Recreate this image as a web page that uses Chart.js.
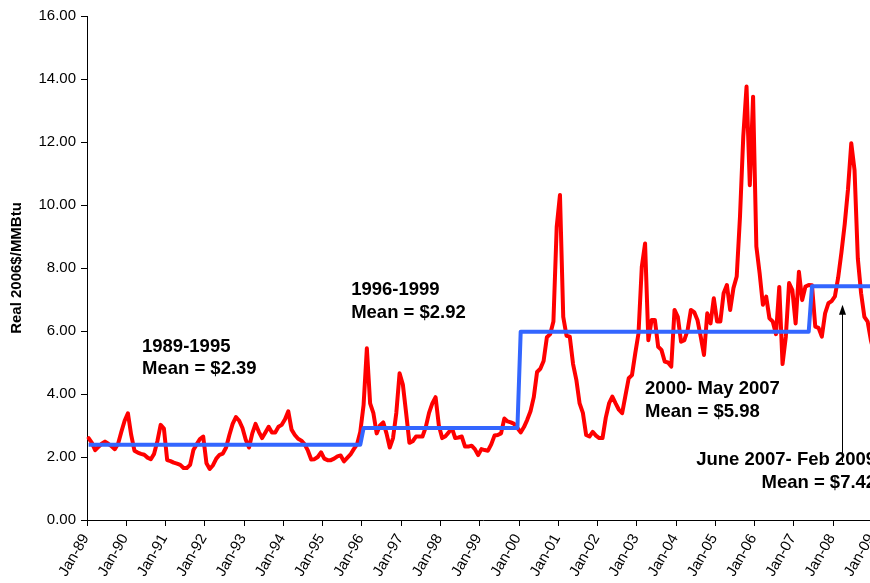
<!DOCTYPE html>
<html>
<head>
<meta charset="utf-8">
<script src="https://cdn.jsdelivr.net/npm/chart.js@4/dist/chart.umd.min.js"></script>
<style>
  html, body { margin: 0; padding: 0; background: #fff; overflow: hidden; width: 870px; height: 583px; }
  #wrap { position: absolute; left: 0; top: 0; width: 900px; height: 583px; }
</style>
</head>
<body>
<div id="wrap"><canvas id="chart"></canvas></div>
<script>
// ---- DATA ----
const years = ['89','90','91','92','93','94','95','96','97','98','99','00','01','02','03','04','05','06','07','08','09'];
const monthNames = ['Jan','Feb','Mar','Apr','May','Jun','Jul','Aug','Sep','Oct','Nov','Dec'];
const monthsInLastYear = 2; // data runs through Feb-09

// Real natural gas price, 2006$/MMBtu, monthly from Jan-89
const realPrice = [
  2.60, 2.45, 2.22, 2.32, 2.42, 2.49, 2.42, 2.34, 2.25, 2.42, 2.80, 3.15,   // 1989
  3.39, 2.70, 2.20, 2.14, 2.10, 2.07, 1.98, 1.93, 2.10, 2.50, 3.02, 2.90,   // 1990
  1.90, 1.87, 1.82, 1.79, 1.75, 1.65, 1.65, 1.75, 2.22, 2.40, 2.57, 2.65,   // 1991
  1.80, 1.62, 1.74, 1.95, 2.07, 2.11, 2.30, 2.70, 3.05, 3.27, 3.15, 2.92,   // 1992
  2.55, 2.30, 2.75, 3.05, 2.80, 2.60, 2.78, 2.96, 2.78, 2.78, 2.96, 3.02,   // 1993
  3.20, 3.45, 2.87, 2.70, 2.58, 2.52, 2.40, 2.20, 1.92, 1.93, 2.00, 2.15,   // 1994
  1.95, 1.90, 1.90, 1.95, 2.02, 2.05, 1.86, 1.97, 2.08, 2.25, 2.40, 2.80,   // 1995
  3.65, 5.45, 3.70, 3.39, 2.75, 3.00, 3.10, 2.75, 2.30, 2.60, 3.40, 4.66,   // 1996
  4.30, 3.40, 2.45, 2.50, 2.65, 2.65, 2.65, 2.95, 3.40, 3.70, 3.90, 3.00,   // 1997
  2.60, 2.66, 2.78, 2.92, 2.60, 2.62, 2.65, 2.33, 2.33, 2.36, 2.25, 2.06,   // 1998
  2.25, 2.22, 2.20, 2.40, 2.68, 2.70, 2.75, 3.22, 3.13, 3.10, 3.05, 2.92,   // 1999
  2.78, 2.95, 3.18, 3.45, 3.90, 4.70, 4.80, 5.05, 5.80, 5.90, 6.30, 9.30,   // 2000
  10.32, 6.45, 5.85, 5.82, 4.95, 4.45, 3.70, 3.40, 2.70, 2.65, 2.80, 2.68,  // 2001
  2.60, 2.60, 3.25, 3.70, 3.92, 3.70, 3.50, 3.39, 3.95, 4.50, 4.60, 5.29,   // 2002
  5.93, 8.04, 8.78, 5.71, 6.35, 6.35, 5.50, 5.40, 5.03, 5.00, 4.87, 6.67,   // 2003
  6.45, 5.66, 5.71, 6.03, 6.67, 6.60, 6.35, 5.82, 5.24, 6.56, 6.24, 7.04,   // 2004
  6.30, 6.30, 7.20, 7.46, 6.67, 7.36, 7.73, 9.63, 12.17, 13.76, 10.63, 13.44, // 2005
  8.68, 7.83, 6.83, 7.09, 6.40, 6.30, 5.90, 7.40, 4.95, 5.82, 7.52, 7.30,   // 2006
  6.24, 7.88, 6.98, 7.41, 7.46, 7.45, 6.14, 6.10, 5.82, 6.56, 6.88, 6.95,   // 2007
  7.10, 7.70, 8.50, 9.40, 10.50, 11.96, 11.10, 8.30, 7.20, 6.45, 6.30, 5.70, // 2008
  5.30, 5.20                                                                // 2009
];

// Period means (step line) and number of months in each period
const periodMeans  = [2.39, 2.92, 5.98, 7.42];
const periodMonths = [84, 48, 89, 21];   // 1989-1995, 1996-1999, Jan 2000-May 2007, Jun 2007-Feb 2009

const yTickLabels = ['0.00','2.00','4.00','6.00','8.00','10.00','12.00','14.00','16.00'];
const xTickLabels = years.map(y => 'Jan-' + y);

const periodLabels = [
  ['1989-1995', 'Mean = $2.39'],
  ['1996-1999', 'Mean = $2.92'],
  ['2000- May 2007', 'Mean = $5.98'],
  ['June 2007- Feb 2009', 'Mean = $7.42']
];

// ---- derived tables ----
const categories = [];
years.forEach((y, yi) => {
  const n = (yi === years.length - 1) ? monthsInLastYear : 12;
  for (let m = 0; m < n; m++) categories.push(monthNames[m] + '-' + y);
});
const meanSeries = [];
periodMeans.forEach((v, i) => { for (let k = 0; k < periodMonths[i]; k++) meanSeries.push(v); });

// ---- annotation placement (in axis units: month index, value) ----
const annotationLayout = [
  { x: 16.3, y1: 5.33, y2: 4.63, align: 'left' },
  { x: 80.2, y1: 7.14, y2: 6.41, align: 'left' },
  { x: 170.0, y1: 4.00, y2: 3.27, align: 'left' },
  { x: 185.6, y1: 1.75, y2: 1.02, align: 'left', x2: 240.6, align2: 'right' }
];
const arrowLayout = { x: 230.2, from: 1.84, to: 6.83 };

const annotationPlugin = {
  id: 'annotations',
  afterDatasetsDraw(chart) {
    const ctx = chart.ctx, xs = chart.scales.x, ys = chart.scales.y;
    ctx.save();
    ctx.fillStyle = '#000';
    ctx.font = 'bold 18.5px "Liberation Sans", Arial, sans-serif';
    ctx.textBaseline = 'alphabetic';
    annotationLayout.forEach((a, i) => {
      ctx.textAlign = a.align;
      ctx.fillText(periodLabels[i][0], xs.getPixelForValue(a.x), ys.getPixelForValue(a.y1));
      ctx.textAlign = a.align2 || a.align;
      ctx.fillText(periodLabels[i][1], xs.getPixelForValue(a.x2 !== undefined ? a.x2 : a.x), ys.getPixelForValue(a.y2));
    });
    // arrow
    const ax = Math.round(xs.getPixelForValue(arrowLayout.x)) + 0.5;
    const yFrom = ys.getPixelForValue(arrowLayout.from);
    const yTo = ys.getPixelForValue(arrowLayout.to);
    ctx.strokeStyle = '#000';
    ctx.lineWidth = 1;
    ctx.beginPath();
    ctx.moveTo(ax, yFrom);
    ctx.lineTo(ax, yTo + 8);
    ctx.stroke();
    ctx.beginPath();
    ctx.moveTo(ax, yTo);
    ctx.lineTo(ax - 3.5, yTo + 10);
    ctx.lineTo(ax + 3.5, yTo + 10);
    ctx.closePath();
    ctx.fill();
    ctx.restore();
  }
};

Chart.defaults.font.family = '"Liberation Sans", Arial, sans-serif';
Chart.defaults.color = '#000';

new Chart(document.getElementById('chart'), {
  type: 'line',
  data: {
    labels: categories,
    datasets: [
      {
        label: 'Period mean',
        data: meanSeries,
        borderColor: '#3366FF',
        borderWidth: 4,
        pointRadius: 0,
        tension: 0,
        borderJoinStyle: 'round',
        order: 0
      },
      {
        label: 'Real price',
        data: realPrice,
        borderColor: '#FF0000',
        borderWidth: 4,
        pointRadius: 0,
        tension: 0,
        borderJoinStyle: 'round',
        borderCapStyle: 'round',
        order: 1
      }
    ]
  },
  options: {
    responsive: true,
    maintainAspectRatio: false,
    animation: false,
    events: [],
    layout: { padding: { left: 0, top: 16, right: 20.9, bottom: 0 } },
    plugins: { legend: { display: false }, tooltip: { enabled: false } },
    scales: {
      x: {
        type: 'category',
        offset: true,
        grid: {
          offset: true,
          drawOnChartArea: false,
          drawTicks: true,
          tickLength: 6,
          color: ctx => (ctx.index % 12 === 0 ? '#000' : 'rgba(0,0,0,0)')
        },
        border: { display: true, color: '#000', width: 1 },
        ticks: {
          autoSkip: false,
          minRotation: 60,
          maxRotation: 60,
          padding: 5,
          labelOffset: -3,
          color: '#000',
          font: { size: 15 },
          callback: (v, i) => (i % 12 === 0 ? xTickLabels[i / 12] : '')
        },
        afterFit: s => { s.height = 63; s.paddingLeft = 0; s.paddingRight = 0; }
      },
      y: {
        min: 0,
        max: 16,
        grid: { drawOnChartArea: false, drawTicks: true, tickLength: 6, color: '#000' },
        border: { display: true, color: '#000', width: 1 },
        ticks: {
          stepSize: 2,
          padding: 5,
          color: '#000',
          font: { size: 15 },
          callback: (v) => yTickLabels[Math.round(v / 2)]
        },
        title: {
          display: true,
          text: 'Real 2006$/MMBtu',
          color: '#000',
          font: { size: 15, weight: 'bold' },
          padding: { top: 8, bottom: 0 }
        },
        afterFit: s => { s.width = 87; }
      }
    }
  },
  plugins: [annotationPlugin]
});
</script>
</body>
</html>
